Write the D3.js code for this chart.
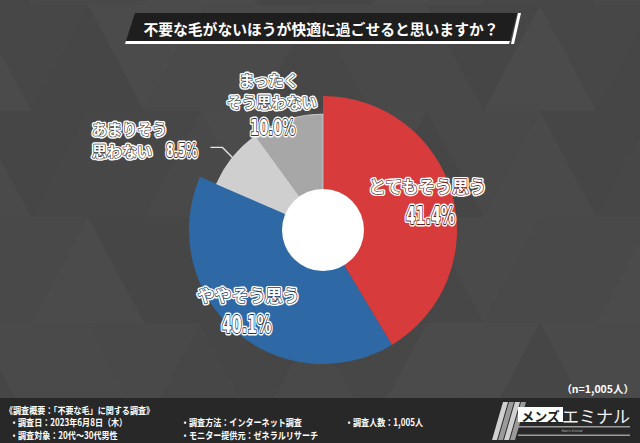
<!DOCTYPE html>
<html><head><meta charset="utf-8">
<script src="https://cdn.jsdelivr.net/npm/d3@7"></script>
<style>
html,body{margin:0;padding:0;background:#4a4949;}
svg{display:block;}
</style></head>
<body>
<svg id="chart" width="640" height="443"></svg>
<script>
// ---- data ----
const title = "不要な毛がないほうが快適に過ごせると思いますか？";
const categories = ["とてもそう思う", "ややそう思う", "あまりそう思わない", "まったくそう思わない"];
const values = [41.4, 40.1, 8.5, 10.0];
const percentLabels = ["41.4%", "40.1%", "8.5%", "10.0%"];
const sampleNote = "（n=1,005人）";
const footerCol1 = ["《調査概要：「不要な毛」に関する調査》", "・調査日：2023年6月8日（木）", "・調査対象：20代～30代男性"];
const footerCol2 = ["・調査方法：インターネット調査", "・モニター提供元：ゼネラルリサーチ"];
const footerCol3 = ["・調査人数：1,005人"];

// ---- styles ----
const sliceColors = ["#d83b3b", "#2e69a6", "#cfcfcf", "#a7a7a7"];
const outlineColors = ["#6a1c1c", "#173a63", "#3a3a3a", "#3a3a3a"];
const W = 640, H = 443;
const cx = 323, cy = 230;

const svg = d3.select("#chart");
const JP = "'Noto Sans CJK JP','Noto Sans',sans-serif";
const NUM = "'DejaVu Sans Condensed','DejaVu Sans',sans-serif";

// background triangles
const bg = svg.append("g");
bg.append("rect").attr("width", W).attr("height", H).attr("fill", "#4a4949");
const tw = 113, th = 106, x0 = 88 - 2 * 113, y0 = 5 - 106;
const shades = ["#4b4a4a", "#484747", "#4a4949", "#4c4b4b", "#474646"];
for (let r = 0; r < 6; r++) {
  for (let c = 0; c < 9; c++) {
    const ax = x0 + c * tw, ay = y0 + r * th;
    bg.append("path")
      .attr("d", `M${ax},${ay}L${ax + tw / 2},${ay + th}L${ax - tw / 2},${ay + th}Z`)
      .attr("fill", shades[(r * 2 + c) % 5]);
    bg.append("path")
      .attr("d", `M${ax},${ay}L${ax + tw},${ay}L${ax + tw / 2},${ay + th}Z`)
      .attr("fill", shades[(r * 3 + c * 2 + 1) % 5]);
  }
}

// title bar
const tg = svg.append("g");
tg.append("path").attr("d", "M135,13L517,13L510,41L126,41Z").attr("fill", "#1e1e1e");
tg.append("path").attr("d", "M126,41L510,41L509,44L125,44Z").attr("fill", "#ffffff");
tg.append("path").attr("d", "M518,13L521,13L514,44L511,44Z").attr("fill", "#ffffff");
tg.append("text").attr("x", 321).attr("y", 28).attr("text-anchor", "middle")
  .attr("dominant-baseline", "central")
  .attr("font-family", JP).attr("font-weight", 700).attr("font-size", 14.8)
  .attr("fill", "#fff").text(title);

// donut
const data = categories.map((c, i) => ({ cat: c, v: values[i], i }));
const pie = d3.pie().sort(null).value(d => d.v).startAngle(0).endAngle(2 * Math.PI);
const arcs = pie(data);
const outerR = i => (i < 2 ? 134 : 116);
const arc = d3.arc().innerRadius(0).outerRadius(d => outerR(d.data.i));
const g = svg.append("g").attr("transform", `translate(${cx},${cy})`);
g.selectAll("path.slice").data(arcs).join("path")
  .attr("class", "slice")
  .attr("d", arc)
  .attr("fill", d => sliceColors[d.data.i])
  .attr("stroke", d => d.data.i >= 2 ? "#e6e6e6" : "none")
  .attr("stroke-width", 0.6);
g.append("circle").attr("r", 41).attr("fill", "#fff");

// outlined label helper (sx = horizontal squeeze)
function olText(parent, x, y, txt, size, family, dark, anchor, sx) {
  sx = sx || 1;
  const k = 1 / Math.sqrt(sx);
  const make = () => parent.append("text")
    .attr("transform", `translate(${x},${y}) scale(${sx},1)`)
    .attr("text-anchor", anchor || "middle").attr("dominant-baseline", "central")
    .attr("font-family", family).attr("font-weight", 700).attr("font-size", size)
    .text(txt);
  make().attr("fill", "#fff").attr("stroke", "#fff").attr("stroke-width", 4.2 * k).attr("stroke-linejoin", "round");
  make().attr("fill", "#fff").attr("stroke", dark).attr("stroke-width", 1.3 * k * k).attr("stroke-linejoin", "round")
    .attr("paint-order", "stroke");
}

// inside labels for large slices
const lab = svg.append("g");
[0, 1].forEach(i => {
  const a = arcs[i];
  const rr = i === 0 ? 100 : 110;
  const c = d3.arc().innerRadius(rr).outerRadius(rr).centroid(a);
  const x = cx + c[0], y = cy + c[1];
  olText(lab, x + (i === 0 ? 8 : -2), y - 18, categories[i], 17, JP, outlineColors[i]);
  olText(lab, x + (i === 0 ? 11 : -4), y + 12, percentLabels[i], 24, NUM, outlineColors[i], "middle", 0.66);
});

// outside label: まったくそう思わない
{
  const a = arcs[3];
  const c = d3.arc().innerRadius(140).outerRadius(140).centroid(a);
  const x = cx + c[0] - 8, y = cy + c[1];
  olText(lab, x - 3, y - 17, "まったく", 15, JP, outlineColors[3]);
  olText(lab, x, y + 5, "そう思わない", 15, JP, outlineColors[3]);
  olText(lab, x + 1, y + 30, percentLabels[3], 22, NUM, outlineColors[3], "middle", 0.66);
}
// outside label: あまりそう思わない with leader
{
  const a = arcs[2];
  const p = d3.arc().innerRadius(116).outerRadius(116).centroid(a);
  const px = cx + p[0], py = cy + p[1];
  const lx = px - 10, ly = py - 10;
  lab.append("path").attr("d", `M${px},${py}L${lx},${ly}L${lx - 12},${ly}`)
    .attr("fill", "none").attr("stroke", "#e8e8e8").attr("stroke-width", 1.3);
  olText(lab, 92, ly - 19, "あまりそう", 15, JP, outlineColors[2], "start");
  olText(lab, 92, ly + 3, "思わない", 15, JP, outlineColors[2], "start");
  olText(lab, 166, ly + 3, percentLabels[2], 19, NUM, outlineColors[2], "start", 0.66);
}

// n note
svg.append("text").attr("x", 634).attr("y", 388).attr("text-anchor", "end")
  .attr("dominant-baseline", "central").attr("font-family", JP).attr("font-weight", 700)
  .attr("font-size", 10.5).attr("fill", "#fff").text(sampleNote);

// footer band
const f = svg.append("g");
f.append("rect").attr("x", 0).attr("y", 398).attr("width", W).attr("height", H - 398).attr("fill", "#282828");
const fText = (x, y, t) => f.append("text")
  .attr("transform", `translate(${x},${y}) scale(0.84,1)`).attr("dominant-baseline", "central")
  .attr("font-family", JP).attr("font-weight", 700).attr("font-size", 9.6).attr("fill", "#fff").text(t);
footerCol1.forEach((t, i) => fText(i === 0 ? 5 : 10, 410 + i * 12.5, t));
footerCol2.forEach((t, i) => fText(181, 422.5 + i * 12.5, t));
footerCol3.forEach((t, i) => fText(345, 422.5 + i * 12.5, t));

// logo
const lg = f.append("g");
[0, 1, 2, 3].forEach(k => {
  lg.append("path")
    .attr("d", `M${492 + k * 6},440L${497 + k * 6},440L${512 + k * 6 - 4},402L${507 + k * 6 - 4},402Z`)
    .attr("fill", k % 2 ? "#9a9a9a" : "#d0d0d0");
});
lg.append("rect").attr("x", 518).attr("y", 407).attr("width", 45).attr("height", 15).attr("fill", "#fff");
lg.append("text").attr("x", 540.5).attr("y", 415).attr("text-anchor", "middle").attr("dominant-baseline", "central")
  .attr("font-family", JP).attr("font-weight", 700).attr("font-size", 13).attr("fill", "#222").text("メンズ");
lg.append("text").attr("x", 596).attr("y", 415).attr("text-anchor", "middle").attr("dominant-baseline", "central")
  .attr("font-family", JP).attr("font-weight", 400).attr("font-size", 17).attr("fill", "#f0f0f0").text("エミナル");
lg.append("rect").attr("x", 518).attr("y", 426).attr("width", 112).attr("height", 1.5).attr("fill", "#9a9a9a");
lg.append("rect").attr("x", 518).attr("y", 434.5).attr("width", 112).attr("height", 1.5).attr("fill", "#9a9a9a");
lg.append("text").attr("x", 572).attr("y", 431).attr("text-anchor", "middle").attr("dominant-baseline", "central")
  .attr("font-family", NUM).attr("font-size", 3.5).attr("fill", "#bbb").text("Men's Eminal");
</script>
</body></html>
